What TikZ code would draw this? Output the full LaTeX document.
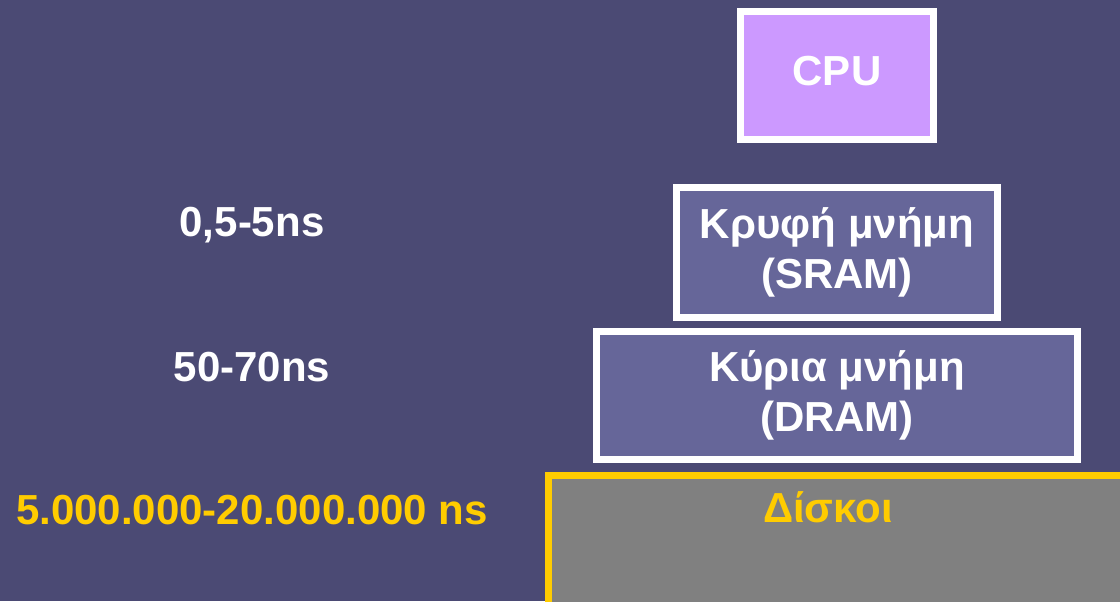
\documentclass[tikz,border=0pt]{standalone}
\usepackage{fontspec}
\setmainfont{Liberation Sans}
\usetikzlibrary{positioning}
\definecolor{slate}{HTML}{4B4A74}
\definecolor{cpuviolet}{HTML}{CC99FF}
\definecolor{memblue}{HTML}{666699}
\definecolor{diskgold}{HTML}{FFCC00}
\tikzset{
  bigtext/.style={font=\bfseries\fontsize{21}{25}\selectfont},
  level/.style={bigtext,draw=white,line width=3.5pt,fill=memblue,text=white,align=center,inner sep=0pt},
  timing/.style={bigtext,text=white,anchor=base,inner sep=0pt}
}
\begin{document}
\begin{tikzpicture}[x=0.5pt,y=-0.5pt]
\fill[slate] (0,0) rectangle (1120,601);
\clip (0,0) rectangle (1120,601);
% memory levels
\node[level,fill=cpuviolet,minimum width=96.5pt,minimum height=64pt,text depth=5pt] (cpu) at (837,75.5) {CPU};
\node[level,minimum width=160.5pt,minimum height=65pt] (cache) at (837,252.5) {Κρυφή μνήμη\\(SRAM)};
\node[level,minimum width=240.5pt,minimum height=64pt] (dram) at (837,395.5) {Κύρια μνήμη\\(DRAM)};
\node[level,draw=diskgold,fill=gray,anchor=north west,minimum width=320pt,minimum height=120pt] (disk) at (545,472) {};
\node[timing,text=diskgold] (disklabel) at (828,522) {Δίσκοι};
% access times
\node[timing] (tcache) at (252,236) {0,5-5ns};
\node[timing] (tdram) at (252,381) {50-70ns};
\node[timing,text=diskgold] (tdisk) at (252,524) {5.000.000-20.000.000 ns};
\end{tikzpicture}
\end{document}
